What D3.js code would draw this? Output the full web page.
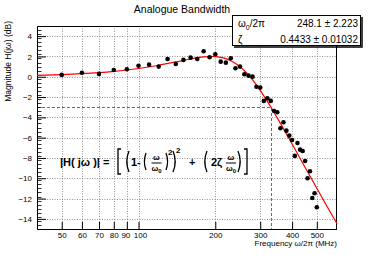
<!DOCTYPE html>
<html><head><meta charset="utf-8">
<script src="https://cdn.jsdelivr.net/npm/d3@7"></script>
<style>
html,body{margin:0;padding:0;background:#fff;}
svg{display:block;font-family:"Liberation Sans",Arial,Helvetica,sans-serif;}
</style></head>
<body>
<svg id="c" width="374" height="255"></svg>
<script>
// ---- data ----
const freqMHz = [50,60,70,80,90,100,110,120,130,140,150,160,170,180,190,200,210,220,230,240,250,260,270,280,290,300,310,320,330,340,350,360,370,380,390,400,410,420,430,440,450,460,470,480,490,500];
const gainDb  = [0.18,0.40,0.28,0.67,0.74,1.09,1.19,1.00,1.75,1.26,1.66,1.88,1.75,2.51,1.92,2.22,1.49,1.39,1.82,0.84,1.00,0.25,0.11,0.01,-0.98,-1.07,-2.38,-2.12,-2.38,-3.37,-3.50,-5.07,-4.48,-5.31,-5.80,-6.23,-7.80,-6.52,-7.18,-7.31,-8.30,-10.00,-9.31,-11.94,-11.48,-12.86];
// fit curve (red line)
const fitFreq = [40,50,60,70,80,90,100,120,140,160,180,190,200,210,220,230,240,250,260,270,280,290,300,310,320,330,340,360,380,400,430,460,500,550,600];
const fitDb   = [0.136,0.212,0.304,0.411,0.533,0.667,0.814,1.131,1.458,1.752,1.951,1.993,1.983,1.914,1.780,1.579,1.310,0.978,0.590,0.155,-0.318,-0.821,-1.345,-1.881,-2.425,-2.972,-3.517,-4.590,-5.629,-6.629,-8.046,-9.367,-10.992,-12.830,-14.488];
const xTicks = [50,60,70,80,90,100,200,300,400,500];
const yTicks = [-14,-12,-10,-8,-6,-4,-2,0,2,4];
const cutoffFreq = 330.7, cutoffDb = -3;
const statValues = ["248.1 \u00b1 2.223","0.4433 \u00b1 0.01032"];
const titleText = "Analogue Bandwidth";
const xLabel = "Frequency \u03c9/2\u03c0 (MHz)";
const yLabel = "Magnitude H(j\u03c9) (dB)";

// ---- layout ----
const L=37, R=337, T=26, B=229;
const svg = d3.select("#c");
const x = d3.scaleLog().domain([40,600]).range([L,R]);
const y = d3.scaleLinear().domain([-15,5]).range([B,T]);

// grid
const grid = svg.append("g").attr("stroke","#777").attr("stroke-width",0.8).attr("stroke-dasharray","1,1.5");
grid.selectAll("line.v").data(xTicks).join("line")
  .attr("x1",d=>Math.round(x(d))+0.5).attr("x2",d=>Math.round(x(d))+0.5).attr("y1",T).attr("y2",B);
grid.selectAll("line.h").data(yTicks).join("line")
  .attr("y1",d=>Math.round(y(d))+0.5).attr("y2",d=>Math.round(y(d))+0.5).attr("x1",L).attr("x2",R);

// -3 dB dashed guides
svg.append("path").attr("fill","none").attr("stroke","#444").attr("stroke-width",0.8).attr("stroke-dasharray","3,2")
  .attr("d",`M${L},${Math.round(y(cutoffDb))+0.5}H${Math.round(x(cutoffFreq))+0.5}V${B}`);

// axes (ticks inside)
const yAxis = d3.axisLeft(y).tickValues(yTicks).tickSize(-9).tickPadding(5)
  .tickFormat(d=>d<0?"\u2212"+Math.abs(d):String(d));
const gy = svg.append("g").attr("transform",`translate(${L},0)`).call(yAxis);
gy.select(".domain").remove();
gy.selectAll("text").attr("font-size",8).attr("fill","#000").attr("font-family","Liberation Sans, Arial, sans-serif");
// minor y ticks
const minorY = d3.range(-15,5.001,0.4).filter(v=>!yTicks.some(t=>Math.abs(t-v)<1e-6));
svg.append("g").selectAll("line").data(minorY).join("line")
  .attr("x1",L).attr("x2",L+4.5).attr("y1",d=>Math.round(y(d))+0.5).attr("y2",d=>Math.round(y(d))+0.5)
  .attr("stroke","#000").attr("stroke-width",0.8);

const xAxis = d3.axisBottom(x).tickValues(xTicks).tickSize(-7).tickPadding(3).tickFormat(d3.format("d"));
const gx = svg.append("g").attr("transform",`translate(0,${B})`).call(xAxis);
gx.select(".domain").remove();
gx.selectAll("text").attr("font-size",8).attr("fill","#000").attr("font-family","Liberation Sans, Arial, sans-serif");
gx.selectAll(".tick").filter(d=>d===90).select("text").attr("dx",-1.5);
gx.selectAll(".tick").filter(d=>d===100).select("text").attr("dx",1.5);

// frame
svg.append("rect").attr("x",L+0.5).attr("y",T+0.5).attr("width",R-L-1).attr("height",B-T)
  .attr("fill","none").attr("stroke","#000").attr("stroke-width",1);

// fit curve
const fitPts = fitFreq.map((f,i)=>[f,fitDb[i]]);
svg.append("path").datum(fitPts).attr("fill","none").attr("stroke","#f00").attr("stroke-width",1.2)
  .attr("d",d3.line().x(d=>x(d[0])).y(d=>y(d[1])).curve(d3.curveMonotoneX));

// data points
svg.append("g").selectAll("circle").data(freqMHz.map((f,i)=>[f,gainDb[i]])).join("circle")
  .attr("cx",d=>x(d[0])).attr("cy",d=>y(d[1])).attr("r",2.3).attr("fill","#000");

// title
svg.append("text").attr("x",182).attr("y",13).attr("text-anchor","middle").attr("font-size",10.5).text(titleText);

// axis labels
svg.append("text").attr("x",R).attr("y",246).attr("text-anchor","end").attr("font-size",8).text(xLabel);
svg.append("text").attr("transform","translate(11,21) rotate(-90)").attr("text-anchor","end").attr("font-size",8.5).text(yLabel);

// stats box
const sb = svg.append("g");
sb.append("path").attr("d","M362,17V47H234").attr("fill","none").attr("stroke","#000").attr("stroke-width",1.5);
sb.append("rect").attr("x",232.5).attr("y",15.5).attr("width",128).attr("height",30).attr("fill","#fff").attr("stroke","#000").attr("stroke-width",1);
const t1 = sb.append("text").attr("x",238).attr("y",27).attr("font-size",10);
t1.append("tspan").text("\u03c9");
t1.append("tspan").attr("font-size",7).attr("dy",2.5).text("0");
t1.append("tspan").attr("dy",-2.5).text("/2\u03c0");
sb.append("text").attr("x",238).attr("y",43).attr("font-size",10).text("\u03b6");
sb.selectAll("text.v").data(statValues).join("text").attr("class","v")
  .attr("x",358).attr("y",(d,i)=>27+i*16).attr("text-anchor","end").attr("font-size",10).text(d=>d);

// formula
const fg = svg.append("g").attr("font-weight","bold").attr("font-size",11);
const base = 166;
fg.append("text").attr("x",60).attr("y",base).text("|H( j\u03c9 )| =");
function paren(xc,top,bot,dir,w){ // dir -1 = "(", 1 = ")"
  const m=(top+bot)/2;
  return `M${xc},${top}Q${xc+dir*w*2},${m} ${xc},${bot}`;
}
const pg = fg.append("g").attr("fill","none").attr("stroke","#000").attr("stroke-width",1.3);
// big [ ]
pg.append("path").attr("d","M121,149H118V174H121");
pg.append("path").attr("d","M244,149H247V174H244");
// big ( )
pg.append("path").attr("d",paren(129,151,172,-1,2.2));
pg.append("path").attr("d",paren(173,151,172,1,2.2));
pg.append("path").attr("d",paren(207,151,172,-1,2.2));
pg.append("path").attr("d",paren(238,151,172,1,2.2));
// small ( )
pg.append("path").attr("d",paren(146,153,170,-1,1.6));
pg.append("path").attr("d",paren(166,153,170,1,1.6));
fg.append("text").attr("x",131).attr("y",base).text("1-");
function frac(cx){
  fg.append("text").attr("x",cx).attr("y",160).attr("text-anchor","middle").attr("font-size",8).text("\u03c9");
  const d = fg.append("text").attr("x",cx).attr("y",171).attr("text-anchor","middle").attr("font-size",8);
  d.append("tspan").text("\u03c9");
  d.append("tspan").attr("font-size",6).attr("dy",2).text("0");
  fg.append("line").attr("x1",cx-5).attr("x2",cx+5).attr("y1",163).attr("y2",163).attr("stroke","#000").attr("stroke-width",1);
}
frac(156.5);
fg.append("text").attr("x",168).attr("y",155).attr("font-size",8).text("2");
fg.append("text").attr("x",176).attr("y",153).attr("font-size",8).text("2");
fg.append("text").attr("x",189).attr("y",base).text("+");
fg.append("text").attr("x",211).attr("y",base).text("2\u03b6");
frac(231);
</script>
</body></html>
